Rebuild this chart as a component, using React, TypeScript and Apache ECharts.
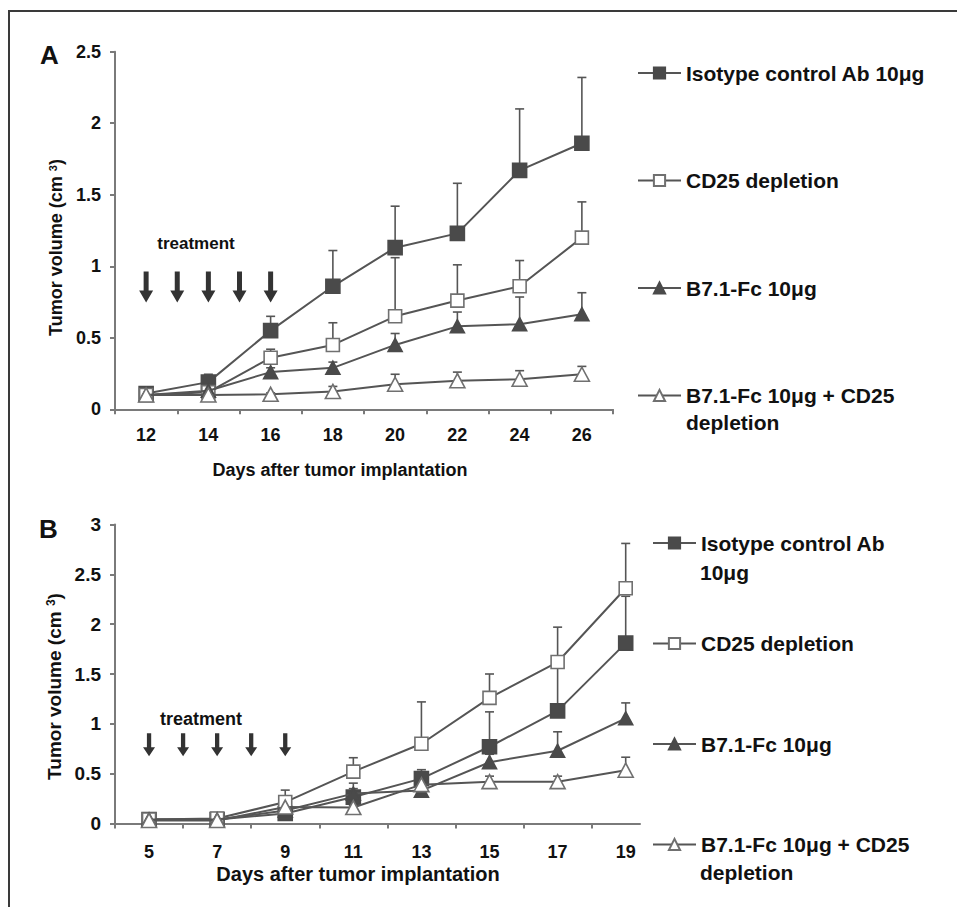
import React, { useEffect, useRef } from "react";
import * as echarts from "echarts";

const FONT = '"Liberation Sans", Arial, Helvetica, sans-serif';

const seriesNames = [
  "Isotype control Ab 10μg",
  "CD25 depletion",
  "B7.1-Fc 10μg",
  "B7.1-Fc 10μg + CD25 depletion",
];

// Panel A
const daysA = [12, 14, 16, 18, 20, 22, 24, 26];
const isoA = [0.11, 0.19, 0.55, 0.86, 1.13, 1.23, 1.67, 1.86];
const isoAErr = [0.02, 0.055, 0.1, 0.25, 0.29, 0.35, 0.43, 0.46];
const cd25A = [0.1, 0.12, 0.36, 0.45, 0.65, 0.76, 0.86, 1.2];
const cd25AErr = [0.02, 0.03, 0.06, 0.155, 0.41, 0.25, 0.18, 0.25];
const b71A = [0.1, 0.13, 0.26, 0.29, 0.45, 0.58, 0.595, 0.665];
const b71AErr = [0.01, 0.02, 0.03, 0.04, 0.08, 0.1, 0.19, 0.15];
const comboA = [0.1, 0.1, 0.105, 0.125, 0.175, 0.2, 0.21, 0.245];
const comboAErr = [0.01, 0.01, 0.01, 0.035, 0.07, 0.06, 0.06, 0.055];
const xLabelsA = [12, 14, 16, 18, 20, 22, 24, 26];
const xTicksA = [11, 13, 15, 17, 19, 21, 23, 25, 27];
const treatmentDaysA = [12, 13, 14, 15, 16];

// Panel B
const daysB = [5, 7, 9, 11, 13, 15, 17, 19];
const isoB = [0.04, 0.04, 0.1, 0.265, 0.45, 0.77, 1.13, 1.81];
const isoBErr = [0.01, 0.01, 0.05, 0.14, 0.09, 0.35, 0.45, 0.47];
const cd25B = [0.04, 0.05, 0.215, 0.52, 0.8, 1.26, 1.62, 2.36];
const cd25BErr = [0.01, 0.01, 0.12, 0.14, 0.42, 0.24, 0.35, 0.45];
const b71B = [0.04, 0.04, 0.13, 0.3, 0.33, 0.615, 0.73, 1.055];
const b71BErr = [0.01, 0.01, 0.03, 0.05, 0.06, 0.08, 0.19, 0.155];
const comboB = [0.03, 0.03, 0.165, 0.16, 0.39, 0.42, 0.42, 0.535];
const comboBErr = [0.01, 0.01, 0.02, 0.02, 0.04, 0.055, 0.055, 0.13];
const xLabelsB = [5, 7, 9, 11, 13, 15, 17, 19];
const xTicksB = [4, 6, 8, 10, 12, 14, 16, 18];
const treatmentDaysB = [5, 6, 7, 8, 9];

const ARROW_LEVEL_A = 0.855;
const ARROW_LEVEL_B = 0.79;

const markerStyles = [
  { symbol: "rect", size: 14, fill: "#4a4a4a", border: "#4a4a4a" },
  { symbol: "rect", size: 13, fill: "#ffffff", border: "#707070" },
  { symbol: "triangle", size: [14, 13], fill: "#4a4a4a", border: "#4a4a4a" },
  { symbol: "triangle", size: [15, 14], fill: "#ffffff", border: "#707070" },
];

const ARROW_PATH = "path://M4.5,0 L9.5,0 L9.5,19 L14,19 L7,31 L0,19 L4.5,19 Z";

function errorRender(params: any, api: any) {
  const x = api.value(0);
  const y = api.value(1);
  const e = api.value(2);
  const p0 = api.coord([x, y]);
  const p1 = api.coord([x, y + e]);
  const style = { stroke: "#555555", lineWidth: 1.6 };
  return {
    type: "group",
    children: [
      { type: "line", shape: { x1: p0[0], y1: p0[1], x2: p1[0], y2: p1[1] }, style },
      { type: "line", shape: { x1: p1[0] - 4.5, y1: p1[1], x2: p1[0] + 4.5, y2: p1[1] }, style },
    ],
  };
}

function buildSeries(days: number[], vals: number[][], errs: number[][], axis: number) {
  const out: any[] = [];
  vals.forEach((v, k) => {
    const ms = markerStyles[k];
    out.push({
      type: "custom",
      name: seriesNames[k] + " error",
      xAxisIndex: axis,
      yAxisIndex: axis,
      renderItem: errorRender,
      data: days.map((d, i) => [d, v[i], errs[k][i]]),
      encode: { x: 0, y: 1 },
      z: 2,
      silent: true,
    });
    out.push({
      type: "line",
      name: seriesNames[k],
      xAxisIndex: axis,
      yAxisIndex: axis,
      data: days.map((d, i) => [d, v[i]]),
      symbol: ms.symbol,
      symbolSize: ms.size,
      showAllSymbol: true,
      itemStyle: { color: ms.fill, borderColor: ms.border, borderWidth: 1.6, opacity: 1 },
      lineStyle: { color: "#555555", width: 2 },
      z: 3 + k * 0.1,
      silent: true,
    });
  });
  return out;
}

function axisCommon() {
  return {
    axisLine: { show: true, onZero: false, lineStyle: { color: "#7a7a7a", width: 2 } },
    axisTick: { show: true, inside: false, length: 5, lineStyle: { color: "#7a7a7a", width: 2 } },
    splitLine: { show: false },
  };
}

export default function App() {
  const ref = useRef<HTMLDivElement>(null);

  useEffect(() => {
    if (!ref.current) return;
    const chart = echarts.init(ref.current, undefined, { renderer: "svg" });

    const tickLabel = (size: number, margin: number) => ({
      fontSize: size,
      fontWeight: "bold",
      color: "#111",
      fontFamily: FONT,
      margin,
    });

    const yName = (size: number) => ({
      fontSize: size,
      fontWeight: "bold",
      color: "#111",
      fontFamily: FONT,
      rich: {
        s: {
          fontSize: Math.round(size * 0.62),
          fontWeight: "bold",
          color: "#111",
          fontFamily: FONT,
          verticalAlign: "top",
          lineHeight: Math.round(size * 0.62),
        },
      },
    });

    const legendText = {
      fontSize: 21,
      fontWeight: "bold",
      color: "#111",
      fontFamily: FONT,
      lineHeight: 22,
    };

    const option: any = {
      animation: false,
      backgroundColor: "#ffffff",
      grid: [
        { left: 115, top: 51.7, width: 498, height: 357.6 },
        { left: 115, top: 524.5, width: 525, height: 299 },
      ],
      xAxis: [
        {
          type: "value",
          gridIndex: 0,
          min: 11,
          max: 27,
          ...axisCommon(),
          axisTick: { ...axisCommon().axisTick, customValues: xTicksA },
          axisLabel: { ...tickLabel(18, 17), customValues: xLabelsA },
          name: "Days after tumor implantation",
          nameLocation: "middle",
          nameGap: 52,
          nameTextStyle: {
            fontSize: 18,
            fontWeight: "bold",
            color: "#111",
            fontFamily: FONT,
            padding: [0, 48, 0, 0],
          },
        },
        {
          type: "value",
          gridIndex: 1,
          min: 4,
          max: 19.42,
          ...axisCommon(),
          axisTick: { ...axisCommon().axisTick, customValues: xTicksB },
          axisLabel: { ...tickLabel(18, 19), customValues: xLabelsB },
          name: "Days after tumor implantation",
          nameLocation: "middle",
          nameGap: 40,
          nameTextStyle: {
            fontSize: 20,
            fontWeight: "bold",
            color: "#111",
            fontFamily: FONT,
            padding: [0, 39, 0, 0],
          },
        },
      ],
      yAxis: [
        {
          type: "value",
          gridIndex: 0,
          min: 0,
          max: 2.5,
          interval: 0.5,
          ...axisCommon(),
          axisLabel: tickLabel(18, 14),
          name: "Tumor volume (cm {s|3})",
          nameLocation: "middle",
          nameRotate: 90,
          nameGap: 48,
          nameTextStyle: { ...yName(18), padding: [0, 34, 0, 0] },
        },
        {
          type: "value",
          gridIndex: 1,
          min: 0,
          max: 3,
          interval: 0.5,
          ...axisCommon(),
          axisLabel: tickLabel(19, 14),
          name: "Tumor volume (cm {s|3})",
          nameLocation: "middle",
          nameRotate: 90,
          nameGap: 48,
          nameTextStyle: { ...yName(19), padding: [0, 25, 0, 0] },
        },
      ],
      legend: [
        {
          data: seriesNames,
          orient: "vertical",
          left: 632,
          top: 57,
          itemWidth: 43,
          itemHeight: 14,
          itemGap: 85.5,
          selectedMode: false,
          formatter: (n: string) => (n === seriesNames[3] ? "B7.1-Fc 10μg + CD25" : n),
          textStyle: legendText,
        },
        {
          data: seriesNames,
          orient: "vertical",
          left: 647,
          top: 527,
          itemWidth: 43,
          itemHeight: 14,
          itemGap: 78.5,
          selectedMode: false,
          formatter: (n: string) =>
            n === seriesNames[0]
              ? "Isotype control Ab"
              : n === seriesNames[3]
              ? "B7.1-Fc 10μg + CD25"
              : n,
          textStyle: legendText,
        },
      ],
      graphic: [
        {
          type: "rect",
          shape: { x: 9, y: 11, width: 1200, height: 1200 },
          style: { fill: "none", stroke: "#3a3a3a", lineWidth: 2 },
          silent: true,
          z: -10,
        },
        {
          type: "text",
          x: 40,
          y: 55,
          style: { text: "A", font: `bold 26px ${FONT}`, fill: "#111", align: "left", verticalAlign: "middle" },
        },
        {
          type: "text",
          x: 39,
          y: 529,
          style: { text: "B", font: `bold 26px ${FONT}`, fill: "#111", align: "left", verticalAlign: "middle" },
        },
        {
          type: "text",
          x: 196,
          y: 243,
          style: { text: "treatment", font: `bold 17px ${FONT}`, fill: "#111", align: "center", verticalAlign: "middle" },
        },
        {
          type: "text",
          x: 201,
          y: 719,
          style: { text: "treatment", font: `bold 18px ${FONT}`, fill: "#111", align: "center", verticalAlign: "middle" },
        },
        {
          type: "text",
          x: 686,
          y: 422,
          style: { text: "depletion", font: `bold 21px ${FONT}`, fill: "#111", align: "left", verticalAlign: "middle" },
        },
        {
          type: "text",
          x: 700,
          y: 572,
          style: { text: "10μg", font: `bold 21px ${FONT}`, fill: "#111", align: "left", verticalAlign: "middle" },
        },
        {
          type: "text",
          x: 700,
          y: 872,
          style: { text: "depletion", font: `bold 21px ${FONT}`, fill: "#111", align: "left", verticalAlign: "middle" },
        },
      ],
      series: [
        ...buildSeries(daysA, [isoA, cd25A, b71A, comboA], [isoAErr, cd25AErr, b71AErr, comboAErr], 0),
        ...buildSeries(daysB, [isoB, cd25B, b71B, comboB], [isoBErr, cd25BErr, b71BErr, comboBErr], 1),
        {
          type: "scatter",
          name: "treatment A",
          xAxisIndex: 0,
          yAxisIndex: 0,
          data: treatmentDaysA.map((d) => [d, ARROW_LEVEL_A]),
          symbol: ARROW_PATH,
          symbolKeepAspect: false,
          symbolSize: [14, 31],
          itemStyle: { color: "#000" },
          silent: true,
          z: 5,
        },
        {
          type: "scatter",
          name: "treatment B",
          xAxisIndex: 1,
          yAxisIndex: 1,
          data: treatmentDaysB.map((d) => [d, ARROW_LEVEL_B]),
          symbol: ARROW_PATH,
          symbolKeepAspect: false,
          symbolSize: [12, 23],
          itemStyle: { color: "#000" },
          silent: true,
          z: 5,
        },
      ],
    };

    chart.setOption(option);
    return () => chart.dispose();
  }, []);

  return (
    <div
      ref={ref}
      style={{ position: "fixed", left: 0, top: 0, width: 957, height: 907, background: "#fff" }}
    />
  );
}
